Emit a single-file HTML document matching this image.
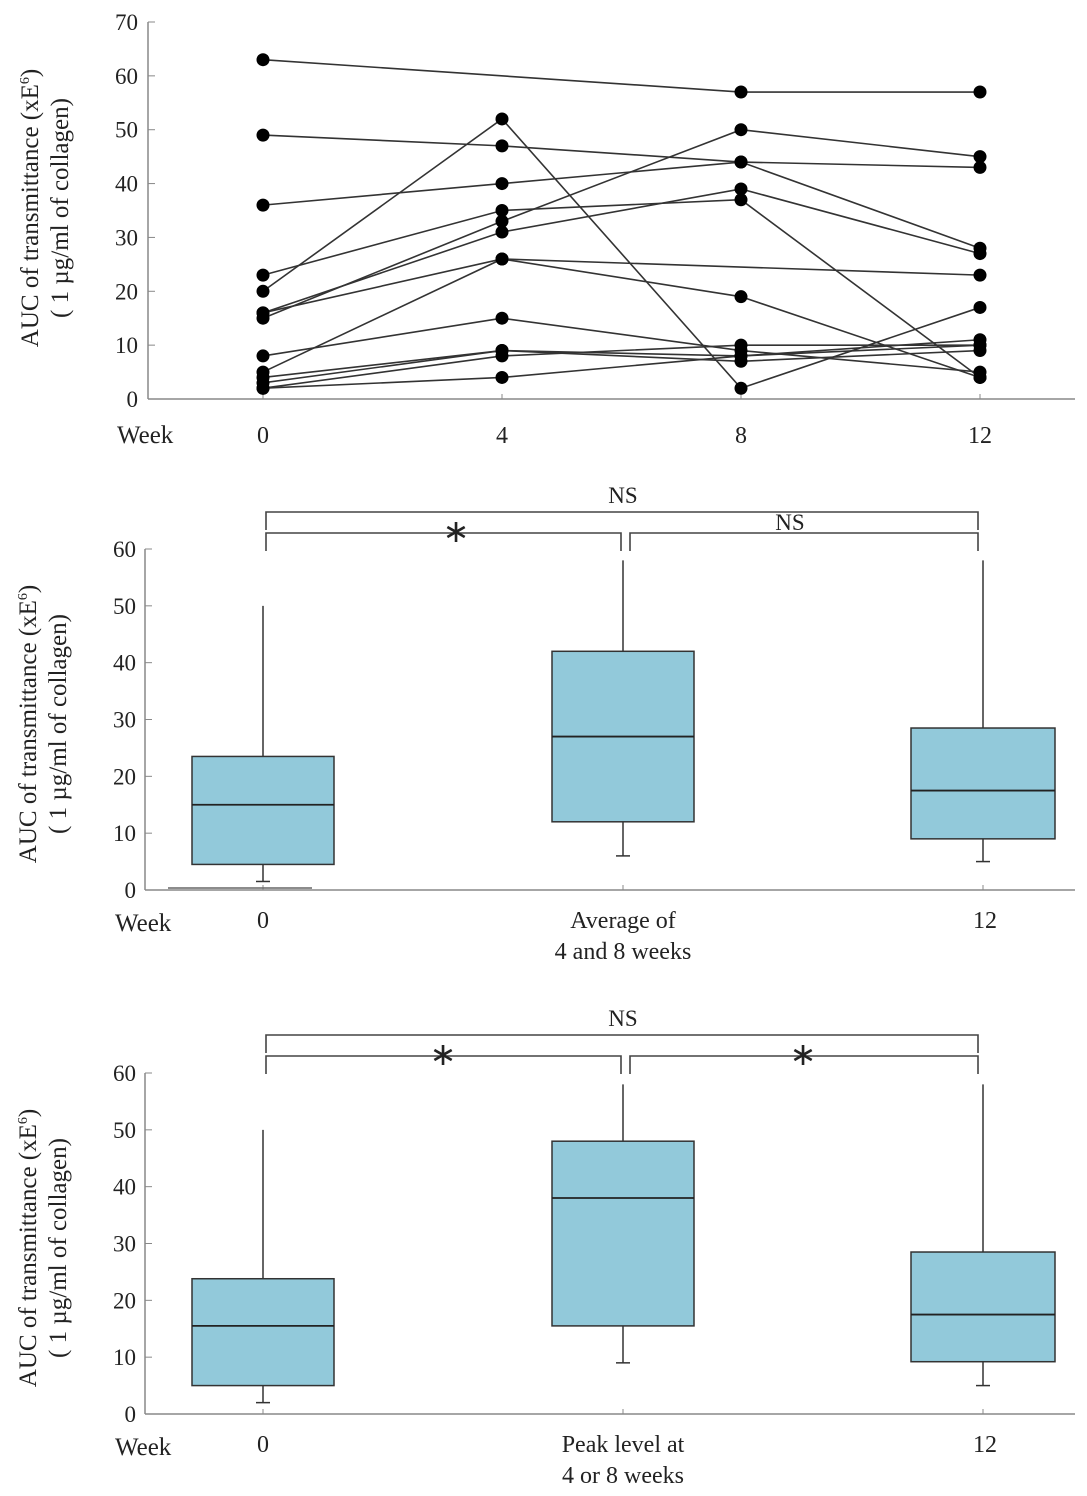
<!DOCTYPE html>
<html><head><meta charset="utf-8"><style>
body{margin:0;background:#fff}
svg{display:block;font-family:"Liberation Serif",serif}
</style></head><body>
<svg id="s" width="1087" height="1496" viewBox="0 0 1087 1496" xmlns="http://www.w3.org/2000/svg"></svg>
<script>
// ---- Panel A data ----
const weeks=[0,4,8,12];
const weekLabels=["0","4","8","12"];
const yTicksA=[0,10,20,30,40,50,60,70];
const s1=[63,null,57,57];
const s2=[49,47,44,43];
const s3=[36,40,44,28];
const s4=[20,52,2,17];
const s5=[15,33,50,45];
const s6=[23,35,37,4];
const s7=[16,31,39,27];
const s8=[16,26,null,23];
const s9=[5,26,19,4];
const s10=[8,15,9,5];
const s11=[4,9,8,11];
const s12=[2,8,10,10];
const s13=[2,4,8,10];
const s14=[3,9,7,9];
const subjects=[s1,s2,s3,s4,s5,s6,s7,s8,s9,s10,s11,s12,s13,s14];
// ---- Panel B/C data ----
const boxLabelsB=["0","Average of|4 and 8 weeks","12"];
const boxB_min=[1.5,6,5], boxB_q1=[4.5,12,9], boxB_med=[15,27,17.5], boxB_q3=[23.5,42,28.5], boxB_max=[50,58,58];
const boxLabelsC=["0","Peak  level at|4 or 8 weeks","12"];
const boxC_min=[2,9,5], boxC_q1=[5,15.5,9.2], boxC_med=[15.5,38,17.5], boxC_q3=[23.8,48,28.5], boxC_max=[50,58,58];
const yTicksB=[0,10,20,30,40,50,60];
const sigB=["NS","*","NS"], sigC=["NS","*","*"];

const S=document.getElementById('s');const NS="http://www.w3.org/2000/svg";
function el(t,a,txt){const e=document.createElementNS(NS,t);for(const k in a)e.setAttribute(k,a[k]);if(txt!=null)e.textContent=txt;S.appendChild(e);return e;}
function yl(x,y,fs){
  const t=el('text',{x:0,y:0,'font-size':fs,fill:'#222','text-anchor':'middle',transform:`translate(${x},${y}) rotate(-90)`});
  
  const a=document.createElementNS(NS,'tspan');a.setAttribute('x',0);a.setAttribute('dy',0);a.textContent='AUC of transmittance (xE';t.appendChild(a);
  const b=document.createElementNS(NS,'tspan');b.setAttribute('dy',-9);b.setAttribute('font-size',14);b.textContent='6';t.appendChild(b);
  const c=document.createElementNS(NS,'tspan');c.setAttribute('dy',9);c.textContent=')';t.appendChild(c);
  const d=document.createElementNS(NS,'tspan');d.setAttribute('x',0);d.setAttribute('dy',30);d.textContent='( 1 µg/ml of collagen)';t.appendChild(d);
}
// Panel A
const axX=148,y0A=399,y70A=22;
const xA=w=>263+(980-263)*w/12, yA=v=>y0A-(y0A-y70A)*v/70;
el('line',{x1:axX,y1:y70A,x2:axX,y2:y0A,stroke:'#888','stroke-width':1.5});
el('line',{x1:axX,y1:y0A,x2:1075,y2:y0A,stroke:'#888','stroke-width':1.5});
yTicksA.forEach(v=>{el('line',{x1:axX,y1:yA(v),x2:axX+7,y2:yA(v),stroke:'#888'});
 const t=el('text',{x:138,y:yA(v)+8,'font-size':23,'text-anchor':'end',fill:'#222'},v);});
weeks.forEach((w,i)=>{el('line',{x1:xA(w),y1:y0A,x2:xA(w),y2:y0A-5,stroke:'#888'});
 const t=el('text',{x:xA(w),y:443,'font-size':24,'text-anchor':'middle',fill:'#222'},weekLabels[i]);});
el('text',{x:117,y:443,'font-size':25,fill:'#222'},'Week');
yl(38,208,25);
subjects.forEach((s,k)=>{const pts=[];s.forEach((v,i)=>{if(v!=null)pts.push([xA(weeks[i]),yA(v)]);});
 const p=el('polyline',{points:pts.map(p=>p.join(',')).join(' '),fill:'none',stroke:'#333','stroke-width':1.6});
 
 pts.forEach(q=>{const c=el('circle',{cx:q[0],cy:q[1],r:6.5,fill:'#000'});});});

function boxPanel(y0,labels,mn,q1,md,q3,mx,sig,bTop){
 const y60=y0-341, y=v=>y0-341*v/60, cx=[263,623,983], hw=[71,71,72];
 el('line',{x1:145,y1:y60,x2:145,y2:y0,stroke:'#888','stroke-width':1.5});
 el('line',{x1:145,y1:y0,x2:1075,y2:y0,stroke:'#888','stroke-width':1.5});
 yTicksB.forEach(v=>{el('line',{x1:145,y1:y(v),x2:152,y2:y(v),stroke:'#888'});
  const t=el('text',{x:136,y:y(v)+8,'font-size':23,'text-anchor':'end',fill:'#222'},v);});
 el('text',{x:115,y:y0+41,'font-size':25,fill:'#222'},'Week');
 yl(36,y0-166,25);
 labels.forEach((l,i)=>{l.split('|').forEach((ln,j)=>{const t=el('text',{x:cx[i]+(i==2?2:0),y:y0+38+j*31,'font-size':24,'text-anchor':'middle',fill:'#222','xml:space':'preserve'},ln);});
  el('line',{x1:cx[i],y1:y0,x2:cx[i],y2:y0-5,stroke:'#888'});
  el('line',{x1:cx[i],y1:y(mx[i]),x2:cx[i],y2:y(q3[i]),stroke:'#333','stroke-width':1.5});
  el('line',{x1:cx[i],y1:y(mn[i]),x2:cx[i],y2:y(q1[i]),stroke:'#333','stroke-width':1.5});
  el('line',{x1:cx[i]-7,y1:y(mn[i]),x2:cx[i]+7,y2:y(mn[i]),stroke:'#333','stroke-width':1.5});
  const r=el('rect',{x:cx[i]-hw[i],y:y(q3[i]),width:2*hw[i],height:y(q1[i])-y(q3[i]),fill:'#92c9da',stroke:'#333','stroke-width':1.5});
  
  el('line',{x1:cx[i]-hw[i],y1:y(md[i]),x2:cx[i]+hw[i],y2:y(md[i]),stroke:'#222','stroke-width':1.8});
 });
 const st={stroke:'#444','stroke-width':1.6,fill:'none'};
 const b1=bTop, b2=bTop+21;
 el('polyline',Object.assign({points:`266,${b1+18} 266,${b1} 978,${b1} 978,${b1+18}`},st));
 el('polyline',Object.assign({points:`266,${b2+18} 266,${b2} 621,${b2} 621,${b2+18}`},st));
 el('polyline',Object.assign({points:`630,${b2+18} 630,${b2} 978,${b2} 978,${b2+18}`},st));
 const pos=[[623,b1-9],[sig[1]=='*'?(b1==512?456:443):456,b2-3],[sig[2]=='*'?803:790,b2-3]];
 sig.forEach((s,i)=>{const t=el('text',{x:pos[i][0],y:pos[i][1]+(s=='*'?12:0),'font-size':s=='*'?32:23,'text-anchor':'middle',fill:'#222'},s=='*'?'∗':s);});
}
boxPanel(890,boxLabelsB,boxB_min,boxB_q1,boxB_med,boxB_q3,boxB_max,sigB,512);
el('line',{x1:168,y1:888,x2:312,y2:888,stroke:'#666','stroke-width':1.5});
boxPanel(1414,boxLabelsC,boxC_min,boxC_q1,boxC_med,boxC_q3,boxC_max,sigC,1035);
</script>
</body></html>
